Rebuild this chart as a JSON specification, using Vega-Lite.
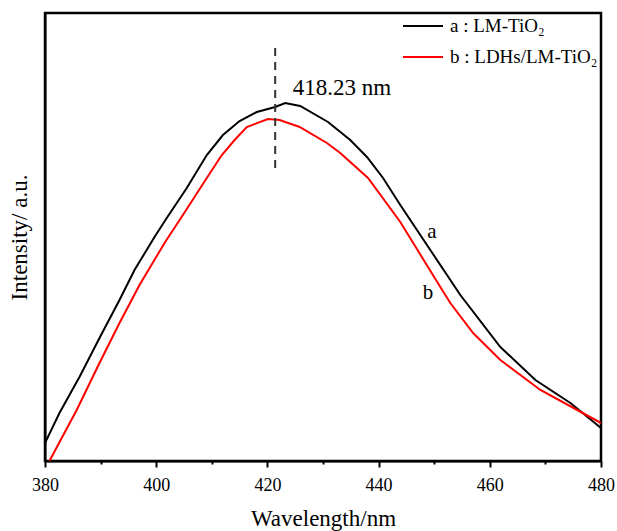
{
  "$schema": "https://vega.github.io/schema/vega-lite/v6.json",
  "width": 556,
  "height": 448,
  "autosize": {"type": "none"},
  "padding": {"left": 45, "top": 13, "right": 16, "bottom": 70},
  "background": "white",
  "config": {
    "font": "Liberation Serif",
    "view": {"stroke": "black", "strokeWidth": 2.5}
  },
  "datasets": {
    "curves": [
      {"w": 380.0, "v": 18, "s": "a : LM-TiO₂"},
      {"w": 382.6, "v": 48, "s": "a : LM-TiO₂"},
      {"w": 386.2, "v": 84, "s": "a : LM-TiO₂"},
      {"w": 389.8, "v": 123, "s": "a : LM-TiO₂"},
      {"w": 393.4, "v": 161, "s": "a : LM-TiO₂"},
      {"w": 396.1, "v": 191, "s": "a : LM-TiO₂"},
      {"w": 399.7, "v": 224, "s": "a : LM-TiO₂"},
      {"w": 401.9, "v": 243, "s": "a : LM-TiO₂"},
      {"w": 405.5, "v": 273, "s": "a : LM-TiO₂"},
      {"w": 409.1, "v": 306, "s": "a : LM-TiO₂"},
      {"w": 412.0, "v": 326, "s": "a : LM-TiO₂"},
      {"w": 415.0, "v": 340, "s": "a : LM-TiO₂"},
      {"w": 418.1, "v": 349, "s": "a : LM-TiO₂"},
      {"w": 421.4, "v": 354, "s": "a : LM-TiO₂"},
      {"w": 423.2, "v": 358, "s": "a : LM-TiO₂"},
      {"w": 425.9, "v": 355, "s": "a : LM-TiO₂"},
      {"w": 430.9, "v": 339, "s": "a : LM-TiO₂"},
      {"w": 434.9, "v": 321, "s": "a : LM-TiO₂"},
      {"w": 437.9, "v": 304, "s": "a : LM-TiO₂"},
      {"w": 440.8, "v": 283, "s": "a : LM-TiO₂"},
      {"w": 443.9, "v": 256, "s": "a : LM-TiO₂"},
      {"w": 449.3, "v": 211, "s": "a : LM-TiO₂"},
      {"w": 454.7, "v": 166, "s": "a : LM-TiO₂"},
      {"w": 461.9, "v": 114, "s": "a : LM-TiO₂"},
      {"w": 468.2, "v": 81, "s": "a : LM-TiO₂"},
      {"w": 474.5, "v": 58, "s": "a : LM-TiO₂"},
      {"w": 480.0, "v": 33, "s": "a : LM-TiO₂"},
      {"w": 380.8, "v": 0, "s": "b : LDHs/LM-TiO₂"},
      {"w": 385.7, "v": 51, "s": "b : LDHs/LM-TiO₂"},
      {"w": 389.8, "v": 98, "s": "b : LDHs/LM-TiO₂"},
      {"w": 393.4, "v": 138, "s": "b : LDHs/LM-TiO₂"},
      {"w": 397.0, "v": 176, "s": "b : LDHs/LM-TiO₂"},
      {"w": 401.5, "v": 218, "s": "b : LDHs/LM-TiO₂"},
      {"w": 404.8, "v": 246, "s": "b : LDHs/LM-TiO₂"},
      {"w": 409.1, "v": 283, "s": "b : LDHs/LM-TiO₂"},
      {"w": 411.8, "v": 306, "s": "b : LDHs/LM-TiO₂"},
      {"w": 414.1, "v": 321, "s": "b : LDHs/LM-TiO₂"},
      {"w": 416.3, "v": 334, "s": "b : LDHs/LM-TiO₂"},
      {"w": 420.1, "v": 342, "s": "b : LDHs/LM-TiO₂"},
      {"w": 422.2, "v": 341, "s": "b : LDHs/LM-TiO₂"},
      {"w": 425.8, "v": 334, "s": "b : LDHs/LM-TiO₂"},
      {"w": 430.7, "v": 318, "s": "b : LDHs/LM-TiO₂"},
      {"w": 433.1, "v": 308, "s": "b : LDHs/LM-TiO₂"},
      {"w": 438.1, "v": 283, "s": "b : LDHs/LM-TiO₂"},
      {"w": 443.9, "v": 239, "s": "b : LDHs/LM-TiO₂"},
      {"w": 451.1, "v": 174, "s": "b : LDHs/LM-TiO₂"},
      {"w": 452.9, "v": 158, "s": "b : LDHs/LM-TiO₂"},
      {"w": 457.0, "v": 128, "s": "b : LDHs/LM-TiO₂"},
      {"w": 461.9, "v": 101, "s": "b : LDHs/LM-TiO₂"},
      {"w": 469.1, "v": 71, "s": "b : LDHs/LM-TiO₂"},
      {"w": 475.4, "v": 52, "s": "b : LDHs/LM-TiO₂"},
      {"w": 480.0, "v": 38, "s": "b : LDHs/LM-TiO₂"}
    ],
    "marker": [{"w": 421.4, "v": 293, "v2": 413}],
    "labels": [
      {"w": 433.4, "v": 373, "t": "418.23 nm", "size": 23},
      {"w": 449.6, "v": 229, "t": "a", "size": 21},
      {"w": 448.9, "v": 168, "t": "b", "size": 21}
    ]
  },
  "layer": [
    {
      "data": {"name": "curves"},
      "mark": {"type": "line", "strokeWidth": 2, "clip": true},
      "encoding": {
        "x": {
          "field": "w", "type": "quantitative",
          "scale": {"domain": [380, 480], "nice": false, "zero": false},
          "axis": {
            "values": [380, 390, 400, 410, 420, 430, 440, 450, 460, 470, 480],
            "labelExpr": "datum.value % 20 === 0 ? datum.label : ''",
            "grid": false,
            "domainColor": "black", "domainWidth": 2,
            "tickColor": "black", "tickWidth": 2,
            "tickSize": {"condition": {"test": "datum.value % 20 === 0", "value": 6}, "value": 3},
            "labelFont": "Liberation Serif", "labelFontSize": 18, "labelColor": "black",
            "labelPadding": 9, "labelFlush": false,
            "title": "Wavelength/nm",
            "titleFont": "Liberation Serif", "titleFontSize": 23, "titleFontWeight": "normal",
            "titleColor": "black", "titlePadding": 13
          }
        },
        "y": {
          "field": "v", "type": "quantitative",
          "scale": {"domain": [0, 448], "nice": false},
          "axis": {
            "labels": false, "ticks": false, "grid": false,
            "domainColor": "black", "domainWidth": 2,
            "title": "Intensity/ a.u.",
            "titleFont": "Liberation Serif", "titleFontSize": 23, "titleFontWeight": "normal",
            "titleColor": "black", "titlePadding": 14
          }
        },
        "color": {
          "field": "s", "type": "nominal",
          "scale": {"domain": ["a : LM-TiO₂", "b : LDHs/LM-TiO₂"], "range": ["black", "#ff0000"]},
          "legend": {
            "title": null,
            "orient": "none",
            "legendX": 357,
            "legendY": -8,
            "symbolType": "stroke",
            "symbolSize": 1600,
            "symbolStrokeWidth": 2,
            "labelFont": "Liberation Serif",
            "labelFontSize": 19,
            "labelColor": "black",
            "labelOffset": 6,
            "rowPadding": -4,
            "padding": 0,
            "labelLimit": 300
          }
        }
      }
    },
    {
      "data": {"name": "marker"},
      "mark": {"type": "rule", "strokeDash": [8, 6], "strokeWidth": 2, "color": "#333333"},
      "encoding": {
        "x": {"field": "w", "type": "quantitative"},
        "y": {"field": "v", "type": "quantitative"},
        "y2": {"field": "v2"}
      }
    },
    {
      "data": {"name": "labels"},
      "mark": {"type": "text", "font": "Liberation Serif", "color": "black", "align": "center", "baseline": "middle"},
      "encoding": {
        "x": {"field": "w", "type": "quantitative"},
        "y": {"field": "v", "type": "quantitative"},
        "text": {"field": "t"},
        "size": {"field": "size", "type": "quantitative", "scale": null, "legend": null}
      }
    }
  ]
}
